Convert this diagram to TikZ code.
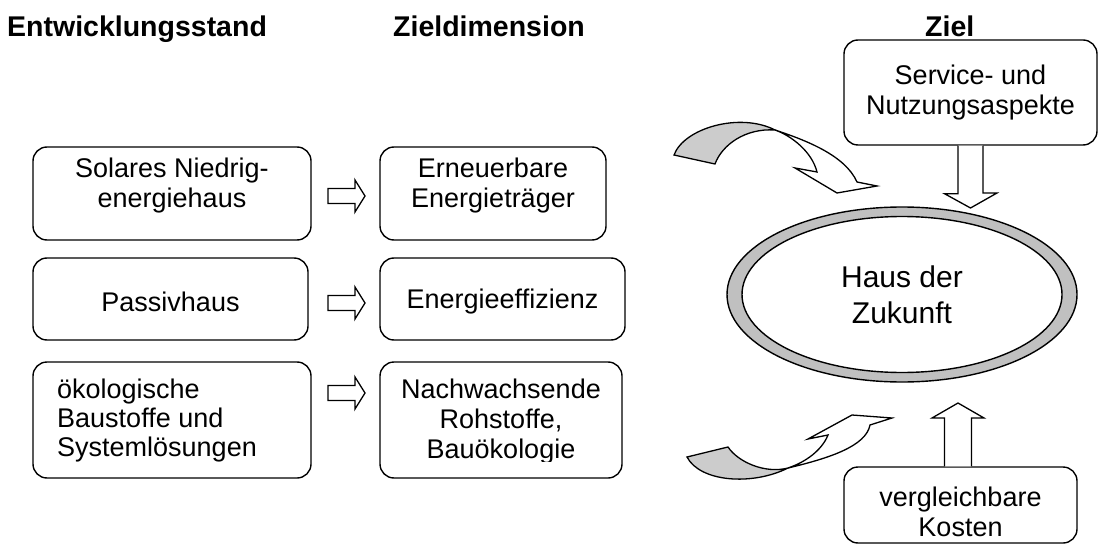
\documentclass[tikz,border=0pt]{standalone}
\usepackage{fontspec}
\setmainfont{Liberation Sans}
\usetikzlibrary{shapes.geometric,calc}
\definecolor{ringgray}{HTML}{C0C0C0}
\definecolor{bandgray}{HTML}{CCCCCC}
\begin{document}
\begin{tikzpicture}[x=1pt,y=-1pt,
  box/.style={draw=black,line width=1.4pt,rounded corners=14pt,inner sep=0pt,fill=white},
  txt/.style={align=center,inner sep=0pt,font=\fontsize{27}{30}\selectfont},
  txtl/.style={align=left,inner sep=0pt,font=\fontsize{27}{29}\selectfont},
  head/.style={inner sep=0pt,anchor=base west,font=\fontsize{28.5}{30}\selectfont\bfseries},
  blk/.style={draw=black,line width=1.3pt,fill=white,line join=miter},
  band/.style={draw=black,line width=1.3pt,line join=miter},
  rarrow/.pic={\draw[blk] (-18.5,-7.5) -- (8.5,-7.5) -- (8.5,-16) -- (18.5,0) -- (8.5,16) -- (8.5,7.5) -- (-18.5,7.5) -- cycle;}
]
\useasboundingbox (0,0) rectangle (1099,545);

% headers
\node[head] (h1) at (7,37) {Entwicklungsstand};
\node[head] (h2) at (393,37) {Zieldimension};
\node[head] (h3) at (925,37) {Ziel};

% left column boxes
\node[box,minimum width=278pt,minimum height=93pt] (l1) at (172,193.5) {};
\node[box,minimum width=275pt,minimum height=82pt] (l2) at (170.5,299) {};
\node[box,minimum width=278pt,minimum height=116pt] (l3) at (172,420) {};
% middle column boxes
\node[box,minimum width=226pt,minimum height=93pt] (m1) at (493,193.5) {};
\node[box,minimum width=245pt,minimum height=82pt] (m2) at (502.5,299) {};
\node[box,minimum width=242pt,minimum height=116pt] (m3) at (501,420) {};
% right boxes
\node[box,minimum width=253pt,minimum height=105pt] (s1) at (970.5,92.5) {};
\node[box,minimum width=233pt,minimum height=76pt] (k1) at (960.5,505) {};

% texts
\node[txt] (tl1) at (172,186) {Solares Niedrig-\\energiehaus};
\node[txt] (tl2) at (170.5,302) {Passivhaus};
\node[txt] (tm1) at (493,186) {Erneuerbare\\Energieträger};
\node[txt] (tm2) at (502.5,302) {Energieeffizienz};
\node[txt] (ts1) at (970.5,93) {Service- und\\Nutzungsaspekte};
\begin{scope}
\clip (0,0) rectangle (1099,461);
\node[txtl,anchor=north west] (tl3) at (57,379) {ökologische\\Baustoffe und\\Systemlösungen};
\node[txt,anchor=north] (tm3) at (501,379) {Nachwachsende\\Rohstoffe,\\Bauökologie};
\end{scope}
\begin{scope}
\clip (0,0) rectangle (1099,540);
\node[txt] (tk1) at (960.5,512) {vergleichbare\\Kosten};
\end{scope}

% small block arrows
\pic at (346.5,196) {rarrow};
\pic at (346.5,303) {rarrow};
\pic at (346.5,393) {rarrow};

% ellipse ring
\node[ellipse,draw=black,line width=1.4pt,fill=ringgray,minimum width=350pt,minimum height=175pt,inner sep=0pt] (e) at (902,294.5) {};
\draw[black,line width=1.4pt,fill=white] (e.center) ellipse [x radius=160pt,y radius=78pt];
\node[align=center,inner sep=0pt,font=\fontsize{30}{36}\selectfont] (te) at (e.center) {Haus der\\Zukunft};

% down arrow from service box
\draw[blk] ($(s1.south)+(-12.5,0)$) -- ++(0,48) -- ++(-13.5,0) -- (970.5,208) -- (997,193) -- ++(-14,0) -- ($(s1.south)+(12.5,0)$);
% up arrow from cost box
\draw[blk] ($(k1.north)+(-16,0)$) -- (944.5,418) -- (932,418) -- (958,403) -- (984,418) -- (971.5,418) -- ($(k1.north)+(11,0)$);

% top curved arrow
\coordinate (tA1) at (674,155); \coordinate (tA2) at (715,164); \coordinate (tX) at (775,130);
\coordinate (tN1) at (817,172); \coordinate (tB1) at (795,168); \coordinate (tT) at (837,193);
\coordinate (tB2) at (877,186); \coordinate (tN2) at (857,182);
\draw[band,fill=white] (tX) .. controls (805,140) and (845,155) .. (tN2) -- (tB2) -- (tT) -- (tB1) -- (tN1) .. controls (812,152) and (792,136) .. (tX) -- cycle;
\draw[band,fill=bandgray] (tA1) .. controls (684,128) and (740,112) .. (tX) .. controls (745,128) and (722,145) .. (tA2) -- cycle;

% bottom curved arrow
\coordinate (bA1) at (687,457); \coordinate (bA2) at (728,447); \coordinate (bX) at (788,468);
\coordinate (bN1) at (828,435); \coordinate (bB1) at (808,439); \coordinate (bH) at (852,415);
\coordinate (bT) at (892,418); \coordinate (bN2) at (870,425);
\draw[band,fill=white] (bX) .. controls (830,458) and (866,446) .. (bN2) -- (bT) -- (bH) -- (bB1) -- (bN1) .. controls (822,450) and (806,462) .. (bX) -- cycle;
\draw[band,fill=bandgray] (bA1) .. controls (700,482) and (752,486) .. (bX) .. controls (765,474) and (738,462) .. (bA2) -- cycle;
\end{tikzpicture}
\end{document}
